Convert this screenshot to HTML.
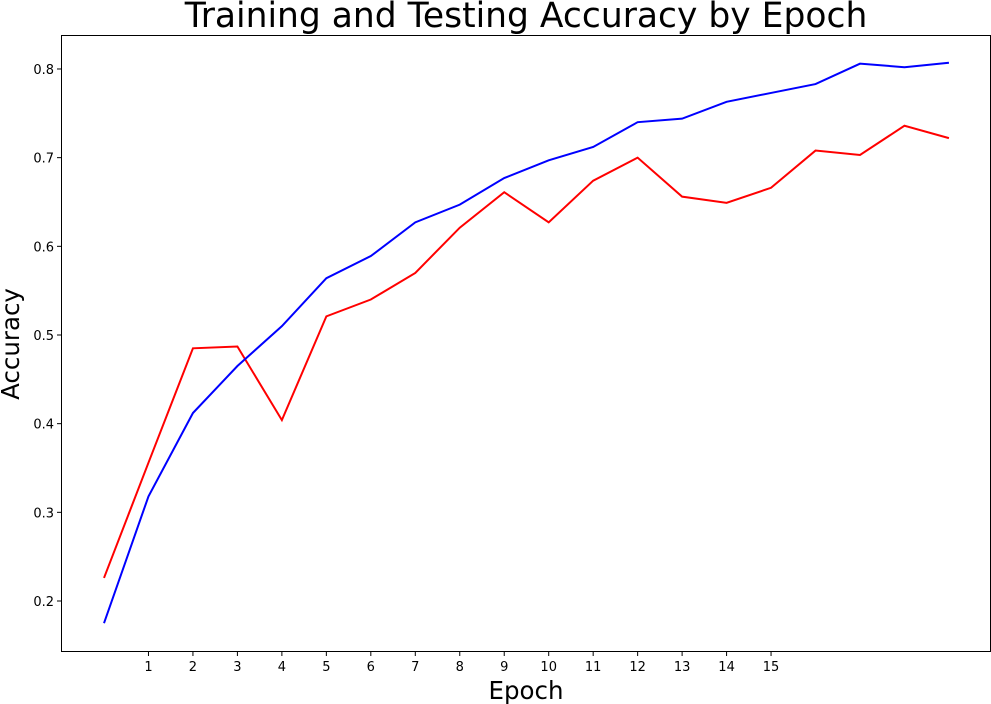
<!DOCTYPE html>
<html><head><meta charset="utf-8"><style>
body{margin:0;background:#fff}
svg{display:block;font-family:"DejaVu Sans","Liberation Sans",sans-serif}
</style></head><body>
<svg id="chart" width="991" height="704" viewBox="0 0 991 704" xmlns="http://www.w3.org/2000/svg">
<text x="526" y="27" font-size="34.5" text-anchor="middle">Training and Testing Accuracy by Epoch</text>
<rect x="61.5" y="35.5" width="929" height="616" fill="none" stroke="#000" stroke-width="1"/>
<g id="xticks"></g>
<g id="yticks"></g>
<text x="526" y="699" font-size="24.5" text-anchor="middle">Epoch</text>
<text transform="translate(19,344) rotate(-90)" font-size="24.5" text-anchor="middle">Accuracy</text>
<g id="series"></g>
</svg>
<script>
const xTickLabels=[1,2,3,4,5,6,7,8,9,10,11,12,13,14,15];
const yTickLabels=[0.2,0.3,0.4,0.5,0.6,0.7,0.8];
const trainAcc=[0.175,0.318,0.412,0.465,0.510,0.564,0.589,0.627,0.647,0.677,0.697,0.712,0.740,0.744,0.763,0.773,0.783,0.806,0.802,0.807];
const testAcc=[0.226,0.356,0.485,0.487,0.404,0.521,0.540,0.570,0.621,0.661,0.627,0.674,0.700,0.656,0.649,0.666,0.708,0.703,0.736,0.722];
const NS='http://www.w3.org/2000/svg';
const xs=i=>104+i*44.47;
const ys=v=>601-(v-0.2)*886.7;
const xg=document.getElementById('xticks');
xTickLabels.forEach(t=>{
  const l=document.createElementNS(NS,'line');
  
  
  l.setAttribute('x1',xs(t));l.setAttribute('x2',xs(t));l.setAttribute('y1',651.5);l.setAttribute('y2',656);l.setAttribute('stroke','#000');
  xg.appendChild(l);
  const tx=document.createElementNS(NS,'text');
  
  
  tx.setAttribute('x',xs(t));tx.setAttribute('y',671);tx.setAttribute('font-size','13');tx.setAttribute('text-anchor','middle');
  tx.textContent=t;xg.appendChild(tx);
});
const yg=document.getElementById('yticks');
yTickLabels.forEach(t=>{
  const l=document.createElementNS(NS,'line');
  
  
  l.setAttribute('x1',57);l.setAttribute('x2',61.5);l.setAttribute('y1',ys(t));l.setAttribute('y2',ys(t));l.setAttribute('stroke','#000');
  yg.appendChild(l);
  const tx=document.createElementNS(NS,'text');
  
  
  tx.setAttribute('x',54);tx.setAttribute('y',ys(t)+5);tx.setAttribute('font-size','13');tx.setAttribute('text-anchor','end');
  tx.textContent=t.toFixed(1);yg.appendChild(tx);
});
const sg=document.getElementById('series');
function line(data,color,name){
  const p=document.createElementNS(NS,'polyline');
  
  
  p.setAttribute('points',data.map((v,i)=>xs(i)+','+ys(v)).join(' '));
  p.setAttribute('fill','none');p.setAttribute('stroke',color);p.setAttribute('stroke-width','2');
  sg.appendChild(p);
}
line(testAcc,'#ff0000','testing-accuracy-line');
line(trainAcc,'#0000ff','training-accuracy-line');
</script>
</body></html>
